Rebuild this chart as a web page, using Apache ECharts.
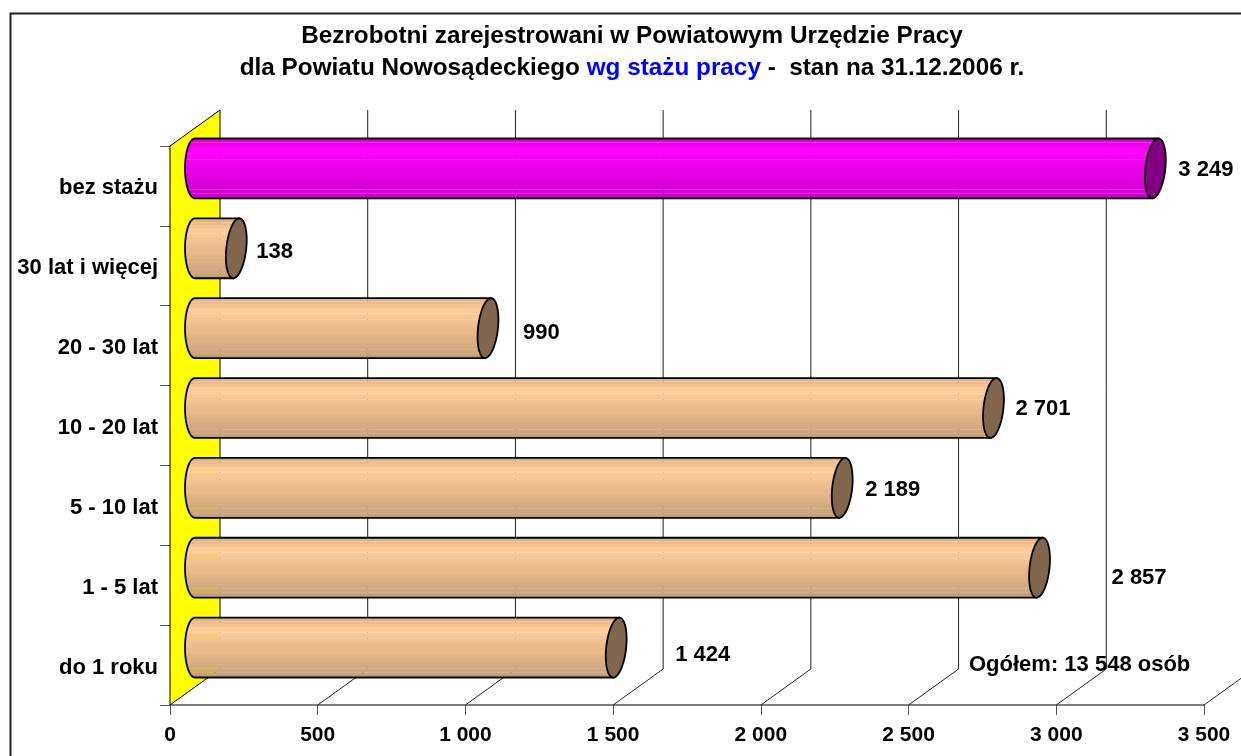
<!DOCTYPE html>
<html>
<head>
<meta charset="utf-8">
<title>Bezrobotni wg stażu pracy</title>
<script src="https://cdn.jsdelivr.net/npm/echarts@6/dist/echarts.min.js"></script>
<style>
  html, body { margin: 0; padding: 0; background: #fff; overflow: hidden; }
  #chart { width: 1241px; height: 756px; }
</style>
</head>
<body>
<div id="chart"></div>
<script>
// data, listed from the bottom of the chart up
const categories = ['do 1 roku', '1 - 5 lat', '5 - 10 lat', '10 - 20 lat', '20 - 30 lat', '30 lat i więcej', 'bez stażu'];
const values = [1424, 2857, 2189, 2701, 990, 138, 3249];
const xTicks = [500, 1000, 1500, 2000, 2500, 3000, 3500];
const titleLine1 = 'Bezrobotni zarejestrowani w Powiatowym Urzędzie Pracy';
const titleLine2a = 'dla Powiatu Nowosądeckiego ';
const titleLine2b = 'wg stażu pracy';
const titleLine2c = ' -  stan na 31.12.2006 r.';
const totalText = 'Ogółem: 13 548 osób';

// look of the pseudo 3d, in pixels
const depthX = 50, depthY = 36;
const FONT = '"Liberation Sans", Arial, sans-serif';
// hand placed value labels in the original: [dx from bar end, dy from bar middle]
const labelShift = [[59, 7], [72, 10], [23, 2], [22, 1], [35, 5], [20, 4], [23, 2]];
const bandShade = [.88, .92, .96, 1, 1, .98, .96, .94, .92, .91, .9, .88, .87, .85, .83, .81, .79, .77];
const stripeRows = [4, 15, 21, 50, 54];

function fmt(v) {
  return String(v).replace(/\B(?=(\d{3})+$)/g, ' ');
}

function barGradient(rgb) {
  const rows = 60, stops = [];
  for (let r = 0; r < rows; r++) {
    const s = bandShade[Math.floor(r / rows * bandShade.length)];
    const a = stripeRows.indexOf(r) >= 0 ? 0.82 : 1;
    const c = 'rgba(' + rgb.map(function (x) { return Math.round(x * s); }).join(',') + ',' + a + ')';
    stops.push({ offset: r / rows, color: c });
    stops.push({ offset: (r + 1) / rows, color: c });
  }
  return new echarts.graphic.LinearGradient(0, 0, 0, 1, stops);
}
const tanFill = barGradient([255, 204, 153]);
const pinkFill = barGradient([255, 0, 255]);

var chart = echarts.init(document.getElementById('chart'));

function renderWall(params) {
  const c = params.coordSys;
  const bottom = c.y + c.height;
  return {
    type: 'polygon',
    shape: { points: [
      [c.x, c.y], [c.x + depthX, c.y - depthY],
      [c.x + depthX, bottom - depthY], [c.x, bottom]
    ] },
    style: { fill: '#ffff00', stroke: '#000', lineWidth: 1 }
  };
}

function renderGridLine(params, api) {
  const c = params.coordSys;
  const x = api.coord([api.value(0), 0])[0];
  const bottom = c.y + c.height;
  return {
    type: 'polyline',
    shape: { points: [
      [x, bottom], [x + depthX, bottom - depthY], [x + depthX, c.y - depthY]
    ] },
    style: { fill: null, stroke: '#222', lineWidth: 1 }
  };
}

function renderBar(params, api) {
  const i = params.dataIndex;
  const end = api.coord([api.value(0), api.value(1)]);
  const start = api.coord([0, api.value(1)]);
  const band = api.size([0, 1])[1];
  const ry = band * 0.375, rx = 10;
  const cy = end[1] - depthY / 2 + 0.5;
  const x0 = start[0] + depthX / 2;
  const x1 = end[0] + depthX / 2 + 0.5;
  const skew = -0.1 * ry;

  // rounded left end + straight sides, the end cap goes over it
  const body = [[x1 - skew, cy - ry]];
  for (let k = 0; k <= 40; k++) {
    const t = -Math.PI / 2 - Math.PI * k / 40;
    body.push([x0 + rx * Math.cos(t), cy + ry * Math.sin(t)]);
  }
  body.push([x1 + skew, cy + ry]);

  const cap = [];
  for (let k = 0; k < 60; k++) {
    const t = Math.PI * 2 * k / 60;
    cap.push([x1 + rx * Math.cos(t) + skew * Math.sin(t), cy + ry * Math.sin(t)]);
  }

  const isTop = i === values.length - 1;
  return {
    type: 'group',
    children: [
      {
        type: 'polygon',
        shape: { points: body },
        style: { fill: isTop ? pinkFill : tanFill, stroke: '#000', lineWidth: 1.8 }
      },
      {
        type: 'polygon',
        shape: { points: cap },
        style: { fill: isTop ? '#800080' : '#80664d', stroke: '#000', lineWidth: 1.8 }
      },
      {
        type: 'text',
        style: {
          x: x1 + labelShift[i][0],
          y: cy + labelShift[i][1],
          text: fmt(api.value(0)),
          fill: '#000',
          font: 'bold 22px ' + FONT,
          textAlign: 'left',
          textVerticalAlign: 'middle'
        }
      }
    ]
  };
}

const option = {
  animation: false,
  backgroundColor: '#fff',
  title: [
    {
      left: 632,
      top: 20,
      padding: 0,
      textAlign: 'center',
      text: '{a|' + titleLine1 + '}\n{a|' + titleLine2a + '}{b|' + titleLine2b + '}{a|' + titleLine2c + '}',
      textStyle: {
        rich: {
          a: { fontFamily: FONT, fontWeight: 'bold', fontSize: 24.3, lineHeight: 32, color: '#000' },
          b: { fontFamily: FONT, fontWeight: 'bold', fontSize: 24.3, lineHeight: 32, color: '#0000ff' }
        }
      }
    },
    {
      left: 969,
      top: 654,
      padding: 0,
      text: totalText,
      textStyle: { fontFamily: FONT, fontWeight: 'bold', fontSize: 22, color: '#000' }
    }
  ],
  graphic: [
    // the frame runs off the picture on the right and at the bottom
    { type: 'rect', shape: { x: 10.5, y: 13.5, width: 1300, height: 800 }, style: { fill: null, stroke: '#222', lineWidth: 2 }, silent: true }
  ],
  grid: { left: 170, top: 146, width: 1034, height: 559 },
  xAxis: {
    type: 'value',
    min: 0,
    max: 3500,
    interval: 500,
    splitLine: { show: false },
    axisLine: { show: true, lineStyle: { color: '#555', width: 1.5 } },
    axisTick: { show: true, length: 10, lineStyle: { color: '#555', width: 1 } },
    axisLabel: {
      margin: 20,
      color: '#000',
      fontFamily: FONT,
      fontWeight: 'bold',
      fontSize: 21,
      formatter: fmt,
      showMaxLabel: true,
      hideOverlap: false
    }
  },
  yAxis: {
    type: 'category',
    data: categories,
    axisLine: { show: true, lineStyle: { color: '#555', width: 1 } },
    axisTick: { show: true, length: 10, lineStyle: { color: '#555', width: 1 } },
    axisLabel: {
      margin: 12,
      interval: 0,
      color: '#000',
      fontFamily: FONT,
      fontWeight: 'bold',
      fontSize: 22,
      // labels sit a little under the band middle
      verticalAlign: 'top',
      lineHeight: 5
    }
  },
  series: [
    { type: 'custom', z: 1, silent: true, coordinateSystem: 'cartesian2d', renderItem: renderWall, data: [[0, 0]], encode: { x: 0, y: 1 } },
    { type: 'custom', z: 2, silent: true, coordinateSystem: 'cartesian2d', renderItem: renderGridLine, data: xTicks.map(function (v) { return [v, 0]; }), encode: { x: 0, y: 1 } },
    { type: 'custom', z: 3, silent: true, coordinateSystem: 'cartesian2d', renderItem: renderBar, data: values.map(function (v, i) { return [v, i]; }), encode: { x: 0, y: 1 } }
  ]
};
chart.setOption(option);
</script>
</body>
</html>
